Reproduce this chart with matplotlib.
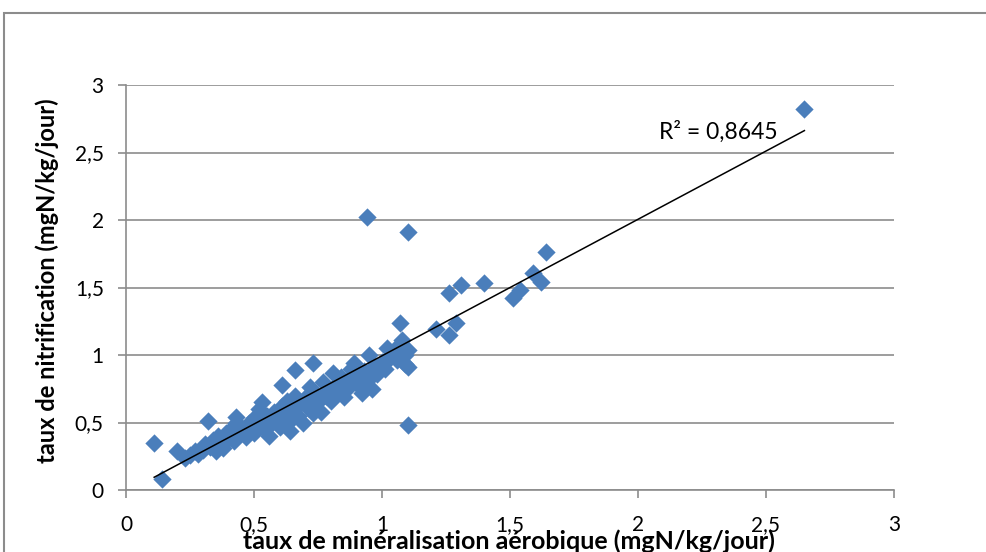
import numpy as np
from matplotlib import pyplot as plt
from matplotlib.patches import Rectangle
from matplotlib.ticker import FuncFormatter

plt.rcParams['font.family'] = ['Lato', 'DejaVu Sans']

# aerobic mineralisation rate (x) vs nitrification rate (y), mgN/kg/day
x_min = [0.11, 0.14, 0.20, 0.23, 0.25, 0.27, 0.28, 0.32,
         0.30, 0.31, 0.33, 0.34, 0.35, 0.36, 0.37, 0.38, 0.39, 0.40,
         0.41, 0.42, 0.43, 0.43, 0.44, 0.45, 0.46, 0.47, 0.48, 0.49,
         0.50, 0.50, 0.51, 0.52, 0.53, 0.53, 0.54, 0.55, 0.56, 0.57,
         0.58, 0.59, 0.60, 0.61, 0.61, 0.62, 0.63, 0.64, 0.64, 0.65,
         0.66, 0.66, 0.67, 0.68, 0.69, 0.70, 0.71, 0.72, 0.73, 0.73,
         0.74, 0.75, 0.76, 0.77, 0.78, 0.79, 0.80, 0.81, 0.82, 0.83,
         0.84, 0.85, 0.86, 0.87, 0.88, 0.89, 0.90, 0.91, 0.92, 0.93,
         0.94, 0.95, 0.96, 0.97, 0.98, 1.00, 1.01, 1.02, 1.03, 1.05,
         1.06, 1.07, 1.08, 1.09, 1.09, 1.10, 1.10,
         0.94, 1.10, 1.07, 1.10, 1.21, 1.26, 1.26, 1.29, 1.31, 1.40,
         1.51, 1.54, 1.59, 1.62, 1.64, 2.65]
y_nit = [0.35, 0.08, 0.29, 0.24, 0.26, 0.29, 0.27, 0.51,
         0.30, 0.34, 0.32, 0.37, 0.29, 0.40, 0.35, 0.31, 0.42, 0.38,
         0.45, 0.36, 0.50, 0.54, 0.41, 0.47, 0.44, 0.39, 0.50, 0.46,
         0.53, 0.42, 0.48, 0.60, 0.65, 0.51, 0.45, 0.55, 0.40, 0.50,
         0.58, 0.53, 0.47, 0.78, 0.62, 0.56, 0.66, 0.51, 0.44, 0.60,
         0.89, 0.70, 0.55, 0.64, 0.50, 0.68, 0.61, 0.76, 0.94, 0.57,
         0.72, 0.65, 0.58, 0.80, 0.70, 0.75, 0.66, 0.87, 0.78, 0.73,
         0.84, 0.69, 0.80, 0.76, 0.90, 0.94, 0.84, 0.77, 0.72, 0.88,
         0.81, 1.00, 0.75, 0.92, 0.86, 0.95, 0.90, 1.05, 0.98, 1.02,
         0.96, 1.08, 1.11, 1.00, 0.93, 1.04, 0.91,
         2.02, 1.91, 1.24, 0.48, 1.19, 1.15, 1.46, 1.24, 1.52, 1.53,
         1.42, 1.48, 1.61, 1.54, 1.76, 2.82]
r2_text = 'R² = 0,8645'
x_ticks = [0, 0.5, 1, 1.5, 2, 2.5, 3]
y_ticks = [0, 0.5, 1, 1.5, 2, 2.5, 3]

x_min = np.array(x_min)
y_nit = np.array(y_nit)

fig = plt.figure(figsize=(9.86, 5.52), dpi=100)

# chart area border (runs off the right and bottom edges)
fig.patches.append(Rectangle((4 / 986, -0.2), 2.0, 1.2 - 13 / 552,
                             transform=fig.transFigure, fill=False,
                             edgecolor='#8c8c8c', linewidth=1.5))

ax = fig.add_axes([126 / 986, 1 - 490 / 552, 768 / 986, 405 / 552])

ax.scatter(x_min, y_nit, marker='D', s=9.3 ** 2, color='#4a7ebb',
           linewidths=0, zorder=3)

# linear trendline over the data range
a, b = np.polyfit(x_min, y_nit, 1)
xs = np.array([x_min.min(), x_min.max()])
ax.plot(xs, a * xs + b, color='black', linewidth=1.1, zorder=4)

ax.text(0.771, 0.884, r2_text, transform=ax.transAxes, fontsize=16.5,
        ha='center', va='center')

ax.set_xlim(0, 3)
ax.set_ylim(0, 3)
ax.set_xticks(x_ticks)
ax.set_yticks(y_ticks)
fmt = FuncFormatter(lambda v, p: f'{v:g}'.replace('.', ','))
ax.xaxis.set_major_formatter(fmt)
ax.yaxis.set_major_formatter(fmt)

ax.grid(axis='y', color='#8c8c8c', linewidth=1.2)
ax.set_axisbelow(True)
for s in ['top', 'right']:
    ax.spines[s].set_visible(False)
for s in ['left', 'bottom']:
    ax.spines[s].set_color('#8c8c8c')
    ax.spines[s].set_linewidth(1.2)
ax.tick_params(axis='x', direction='out', length=6, width=1.2,
               color='#8c8c8c', pad=12, labelsize=15)
ax.tick_params(axis='y', direction='out', length=6, width=1.2,
               color='#8c8c8c', pad=10, labelsize=15)

ax.set_xlabel('taux de minéralisation aérobique (mgN/kg/jour)',
              fontsize=18, fontweight='bold', va='center')
ax.set_ylabel('taux de nitrification (mgN/kg/jour)',
              fontsize=17, fontweight='bold', va='center')
ax.xaxis.set_label_coords(0.499, -0.126)
ax.yaxis.set_label_coords(-0.102, 0.516)

plt.savefig('out.png', dpi=100)
